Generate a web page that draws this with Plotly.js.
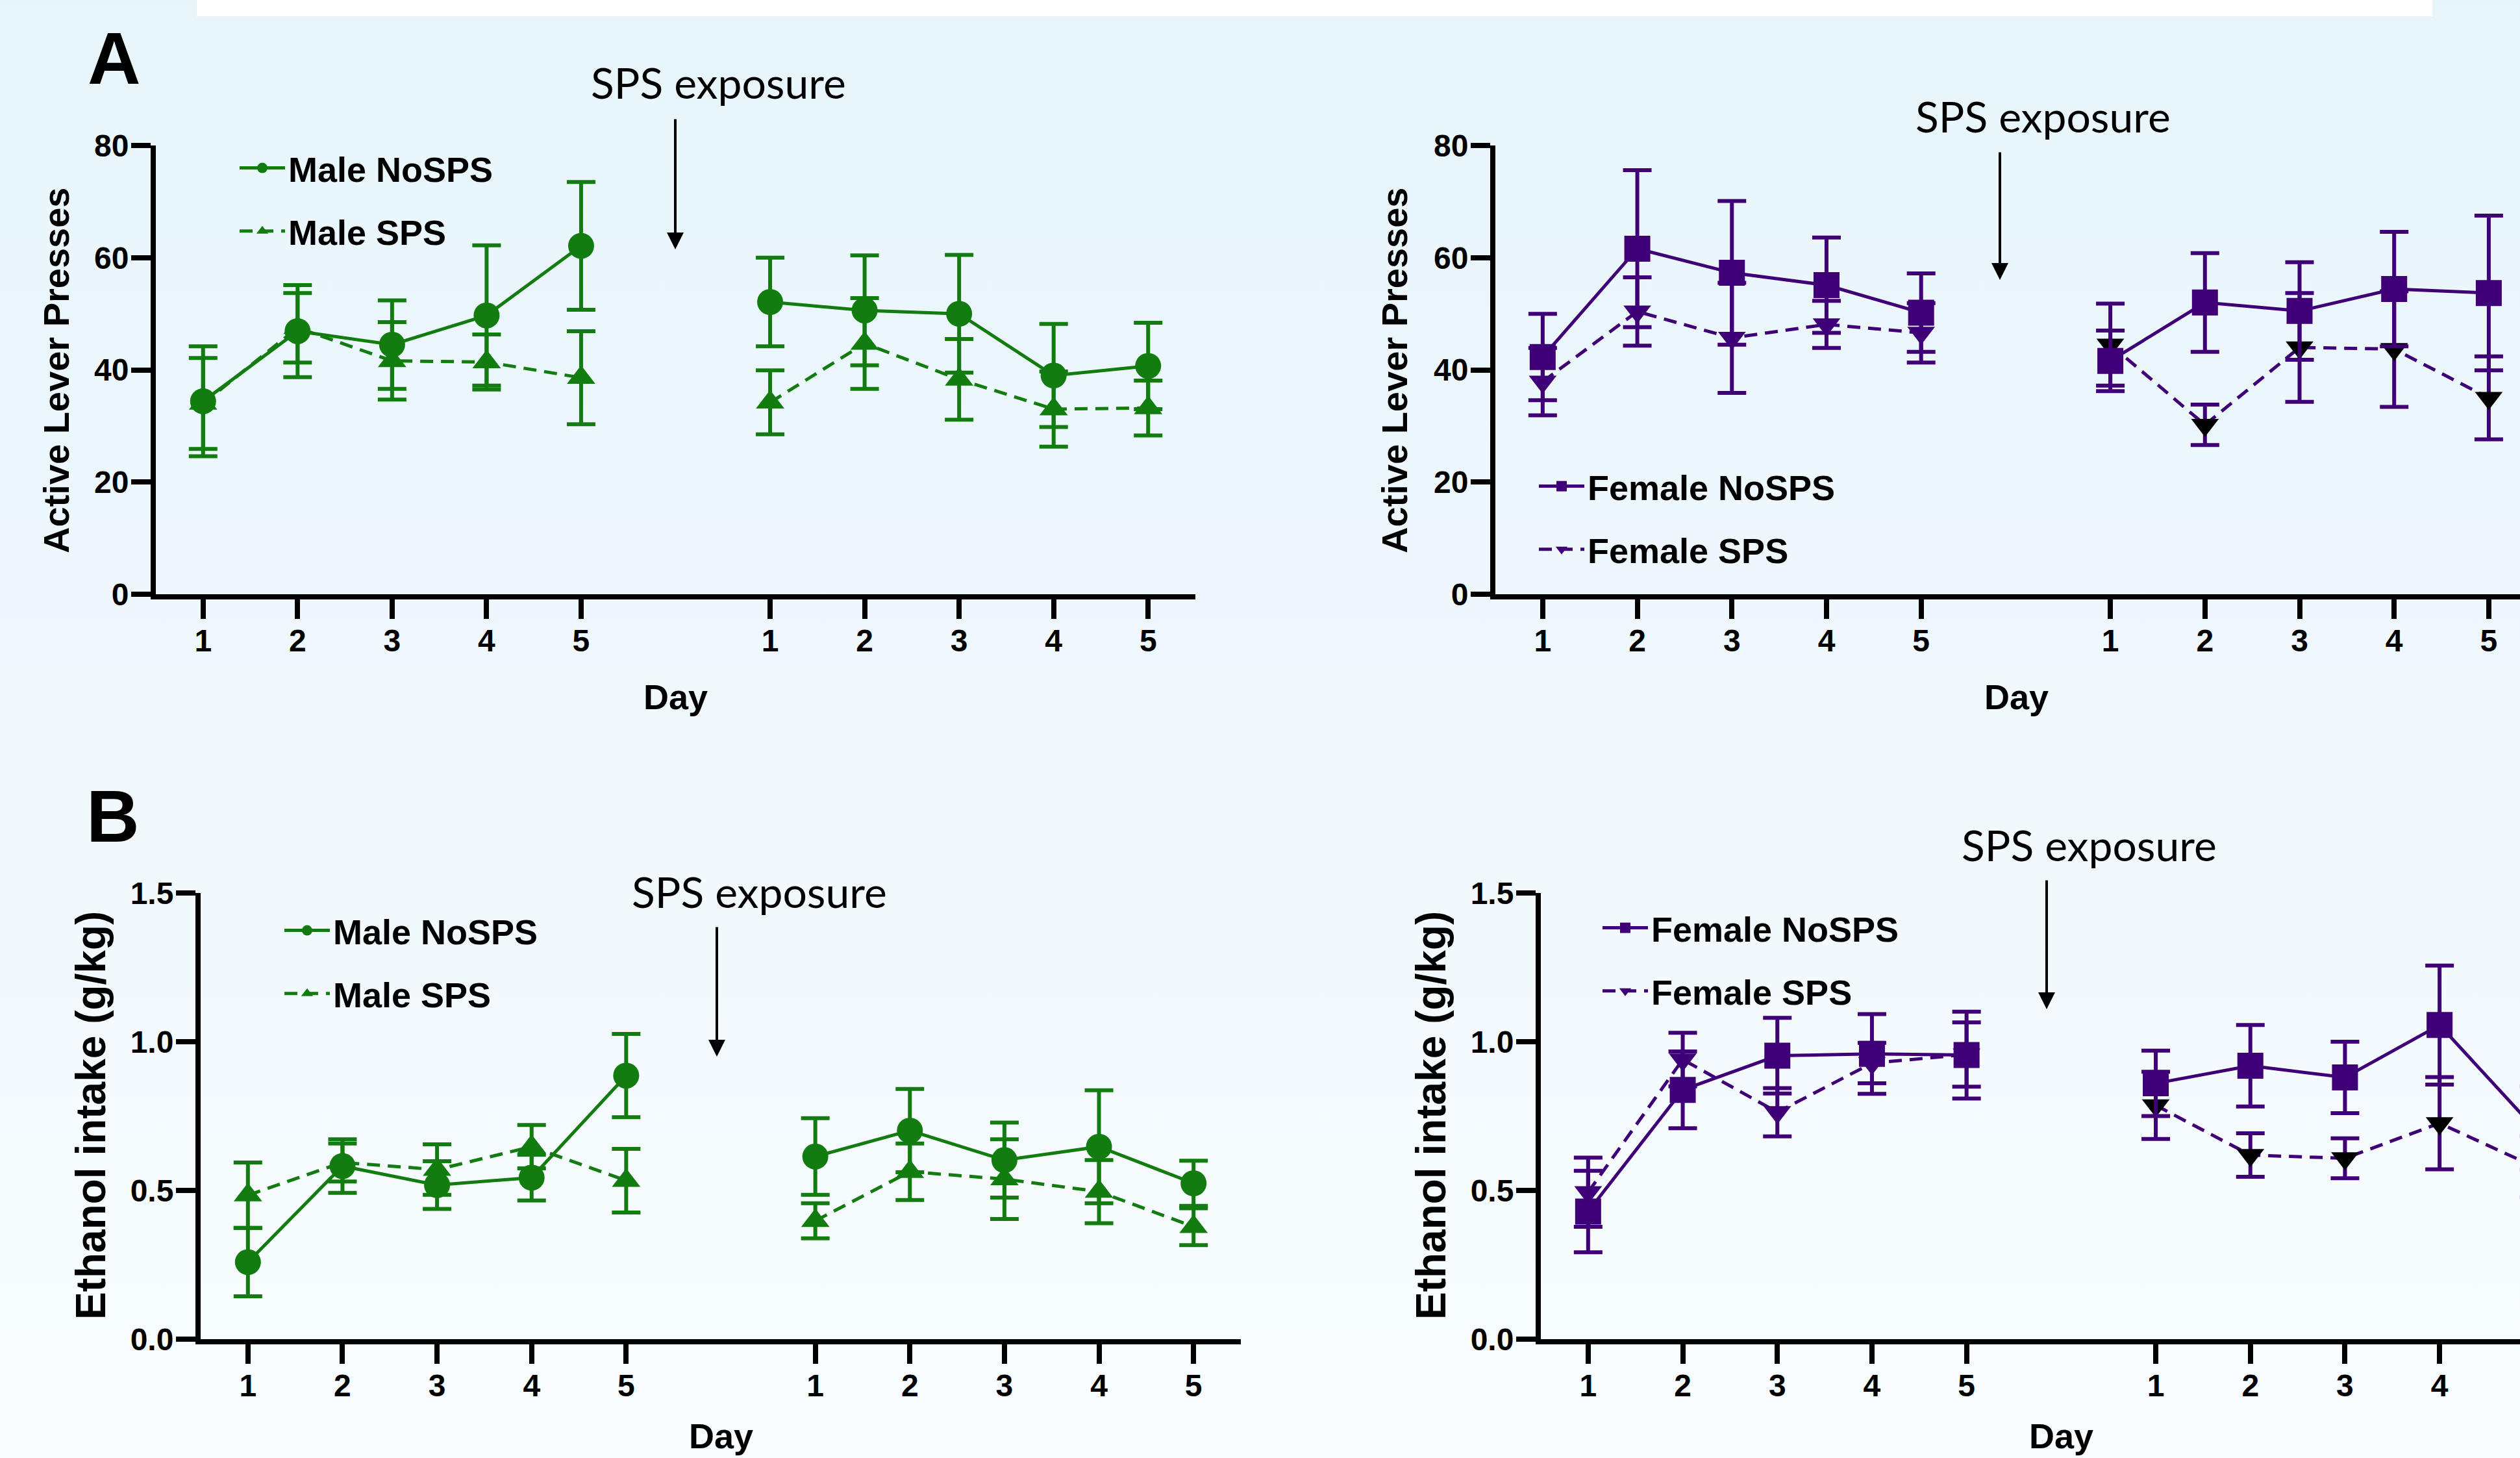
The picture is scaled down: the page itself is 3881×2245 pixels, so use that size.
<!DOCTYPE html>
<html>
<head>
<meta charset="utf-8">
<script src="https://cdn.plot.ly/plotly-3.0.1.min.js"></script>
<style>
  html, body { margin: 0; padding: 0; overflow: hidden; }
  body { width: 3881px; height: 2245px;
         background: linear-gradient(180deg, #e7f5fb 0%, #eff8fc 45%, #f8fcfe 100%); }
  #chart { width: 3881px; height: 2245px; }
</style>
</head>
<body>
<div id="chart"></div>
<script>
// ---------------- data ----------------
// x categories: 5 days before SPS, the SPS exposure slot, 5 days after SPS
const xCategories = ['Pre 1', 'Pre 2', 'Pre 3', 'Pre 4', 'Pre 5', 'SPS',
                     'Post 1', 'Post 2', 'Post 3', 'Post 4', 'Post 5'];
const preDays = ['Pre 1', 'Pre 2', 'Pre 3', 'Pre 4', 'Pre 5'];
const postDays = ['Post 1', 'Post 2', 'Post 3', 'Post 4', 'Post 5'];
const dayTickLabels = ['1', '2', '3', '4', '5', '1', '2', '3', '4', '5'];

// A: Active lever presses (mean, SEM) — pre days 1-5 then post days 1-5
const maleNoSPS_lever      = [34.4, 46.9, 44.5, 49.7, 62.1, 52.1, 50.6, 50.0, 39.0, 40.7];
const maleNoSPS_lever_sem  = [9.8, 8.2, 7.9, 12.5, 11.4, 7.9, 9.8, 10.5, 9.2, 7.7];
const maleSPS_lever        = [34.0, 47.5, 41.6, 41.4, 38.6, 34.2, 44.7, 38.3, 33.0, 33.2];
const maleSPS_lever_sem    = [8.1, 6.2, 6.9, 4.9, 8.3, 5.7, 8.1, 7.2, 6.7, 4.9];

const femaleNoSPS_lever     = [42.3, 61.6, 57.3, 55.1, 50.2, 41.6, 52.0, 50.5, 54.4, 53.7];
const femaleNoSPS_lever_sem = [7.7, 14.0, 12.8, 8.5, 7.0, 5.4, 8.8, 8.7, 10.2, 13.8];
const femaleSPS_lever       = [37.9, 50.4, 45.7, 48.1, 46.6, 44.5, 30.2, 44.0, 43.7, 35.0];
const femaleSPS_lever_sem   = [6.0, 6.1, 9.8, 4.2, 5.3, 7.3, 3.6, 9.7, 10.3, 7.4];

// B: Ethanol intake g/kg (mean, SEM)
const maleNoSPS_etoh      = [0.259, 0.582, 0.518, 0.543, 0.886, 0.614, 0.701, 0.602, 0.647, 0.524];
const maleNoSPS_etoh_sem  = [0.115, 0.090, 0.080, 0.077, 0.140, 0.129, 0.140, 0.126, 0.190, 0.076];
const maleSPS_etoh        = [0.484, 0.594, 0.570, 0.647, 0.533, 0.398, 0.563, 0.538, 0.496, 0.378];
const maleSPS_etoh_sem    = [0.110, 0.064, 0.085, 0.073, 0.107, 0.059, 0.095, 0.134, 0.106, 0.062];

const femaleNoSPS_etoh     = [0.429, 0.838, 0.953, 0.959, 0.955, 0.860, 0.919, 0.880, 1.056, 0.710];
const femaleNoSPS_etoh_sem = [0.137, 0.129, 0.127, 0.134, 0.146, 0.110, 0.137, 0.120, 0.200, 0.140];
const femaleSPS_etoh       = [0.494, 0.940, 0.763, 0.928, 0.957, 0.786, 0.619, 0.608, 0.726, 0.580];
const femaleSPS_etoh_sem   = [0.116, 0.090, 0.081, 0.068, 0.108, 0.113, 0.073, 0.067, 0.155, 0.103];

// ---------------- styling ----------------
const W = 3881, H = 2245;
const GREEN = '#137c10';
const PURPLE = '#3f0077';
const BOLD_FONT = 'Liberation Sans, Arial, Helvetica, sans-serif';
const NOTE_FONT = 'Lato, Open Sans, sans-serif';
const px = v => v / W;
const py = v => 1 - v / H;

function makeTraces(o) {
  const mk = (days, mean, sem, markerColor, first) => ({
    type: 'scatter', mode: 'lines+markers',
    x: days, y: mean,
    name: o.name, legendgroup: o.group, legend: o.legend, legendrank: o.rank,
    showlegend: first,
    xaxis: o.xa, yaxis: o.ya,
    line: { color: o.color, width: 5, dash: o.dash },
    marker: { symbol: o.symbol, size: o.size, color: markerColor },
    error_y: { type: 'data', array: sem, visible: true, color: o.color, thickness: 6, width: 22 }
  });
  return [
    mk(preDays, o.mean.slice(0, 5), o.sem.slice(0, 5), o.color, true),
    mk(postDays, o.mean.slice(5), o.sem.slice(5), o.postMarker || o.color, false)
  ];
}

const traces = [].concat(
  makeTraces({ name: 'Male SPS', group: 'aMS', legend: 'legend', rank: 2, xa: 'x', ya: 'y',
               mean: maleSPS_lever, sem: maleSPS_lever_sem, color: GREEN, symbol: 'triangle-up', size: 38, dash: '20px,12px' }),
  makeTraces({ name: 'Male NoSPS', group: 'aMN', legend: 'legend', rank: 1, xa: 'x', ya: 'y',
               mean: maleNoSPS_lever, sem: maleNoSPS_lever_sem, color: GREEN, symbol: 'circle', size: 40, dash: 'solid' }),
  makeTraces({ name: 'Female SPS', group: 'aFS', legend: 'legend2', rank: 2, xa: 'x2', ya: 'y2',
               mean: femaleSPS_lever, sem: femaleSPS_lever_sem, color: PURPLE, symbol: 'triangle-down', size: 37, dash: '20px,12px', postMarker: '#000000' }),
  makeTraces({ name: 'Female NoSPS', group: 'aFN', legend: 'legend2', rank: 1, xa: 'x2', ya: 'y2',
               mean: femaleNoSPS_lever, sem: femaleNoSPS_lever_sem, color: PURPLE, symbol: 'square', size: 40, dash: 'solid' }),
  makeTraces({ name: 'Male SPS', group: 'bMS', legend: 'legend3', rank: 2, xa: 'x3', ya: 'y3',
               mean: maleSPS_etoh, sem: maleSPS_etoh_sem, color: GREEN, symbol: 'triangle-up', size: 38, dash: '20px,12px' }),
  makeTraces({ name: 'Male NoSPS', group: 'bMN', legend: 'legend3', rank: 1, xa: 'x3', ya: 'y3',
               mean: maleNoSPS_etoh, sem: maleNoSPS_etoh_sem, color: GREEN, symbol: 'circle', size: 40, dash: 'solid' }),
  makeTraces({ name: 'Female SPS', group: 'bFS', legend: 'legend4', rank: 2, xa: 'x4', ya: 'y4',
               mean: femaleSPS_etoh, sem: femaleSPS_etoh_sem, color: PURPLE, symbol: 'triangle-down', size: 37, dash: '20px,12px', postMarker: '#000000' }),
  makeTraces({ name: 'Female NoSPS', group: 'bFN', legend: 'legend4', rank: 1, xa: 'x4', ya: 'y4',
               mean: femaleNoSPS_etoh, sem: femaleNoSPS_etoh_sem, color: PURPLE, symbol: 'square', size: 40, dash: 'solid' })
);

const tickFont = { family: BOLD_FONT, size: 48, color: '#000', weight: 'bold' };
function xAxis(d0, d1, rangeEnd, anchor) {
  return {
    domain: [px(d0), px(d1)], anchor: anchor, type: 'category',
    categoryorder: 'array', categoryarray: xCategories, range: [-0.5, rangeEnd],
    tickmode: 'array', tickvals: preDays.concat(postDays), ticktext: dayTickLabels,
    showline: true, linewidth: 8, linecolor: '#000', mirror: false,
    ticks: 'outside', ticklen: 30, tickwidth: 8, tickcolor: '#000', ticklabelstandoff: -8,
    showgrid: false, zeroline: false, tickfont: tickFont, fixedrange: true
  };
}
function yAxis(top, bottom, range, dtick, fmt, anchor) {
  return {
    domain: [py(bottom), py(top)], anchor: anchor, range: range,
    tickmode: 'linear', tick0: 0, dtick: dtick, tickformat: fmt,
    showline: true, linewidth: 8, linecolor: '#000',
    ticks: 'outside', ticklen: 30, tickwidth: 8, tickcolor: '#000', ticklabelstandoff: -6,
    showgrid: false, zeroline: false, tickfont: tickFont, fixedrange: true
  };
}

function legendBox(left, top) {
  return {
    x: px(left), y: py(top), xanchor: 'left', yanchor: 'top',
    bgcolor: 'rgba(0,0,0,0)', borderwidth: 0, tracegroupgap: 24, itemwidth: 70,
    font: { family: BOLD_FONT, size: 54, color: '#000', weight: 'bold' },
    traceorder: 'grouped'
  };
}

function text(t, x, y, size, family, extra) {
  return Object.assign({
    text: t, xref: 'paper', yref: 'paper', x: px(x), y: py(y),
    xanchor: 'center', yanchor: 'middle', showarrow: false,
    font: { family: family, size: size, color: '#000' }
  }, extra || {});
}
function boldText(t, x, y, size, extra) {
  const a = text(t, x, y, size, BOLD_FONT, extra);
  a.font.weight = 'bold';
  return a;
}
function arrow(x, top, tip) {
  return {
    text: '', xref: 'paper', yref: 'paper', x: px(x), y: py(tip),
    ax: 0, ay: -(tip - top), axref: 'pixel', ayref: 'pixel',
    showarrow: true, arrowhead: 2, arrowsize: 1.3, arrowwidth: 4, arrowcolor: '#000'
  };
}

const annotations = [
  boldText('A', 176, 90, 113),
  boldText('B', 174, 1257, 113),
  text('SPS exposure', 1106, 127, 66, NOTE_FONT),
  text('SPS exposure', 3146, 179, 66, NOTE_FONT),
  text('SPS exposure', 1169, 1372, 66, NOTE_FONT),
  text('SPS exposure', 3217, 1300, 66, NOTE_FONT),
  arrow(1040, 182, 384),
  arrow(3080, 233, 431),
  arrow(1104, 1426, 1627),
  arrow(3152, 1354, 1554),
  boldText('Active Lever Presses', 87, 570, 56, { textangle: -90 }),
  boldText('Active Lever Presses', 2148, 570, 56, { textangle: -90 }),
  boldText('Ethanol intake (g/kg)', 140, 1718, 64, { textangle: -90 }),
  boldText('Ethanol intake (g/kg)', 2204, 1718, 64, { textangle: -90 }),
  boldText('Day', 1040, 1073, 54),
  boldText('Day', 3105, 1073, 54),
  boldText('Day', 1110, 2211, 54),
  boldText('Day', 3174, 2211, 54)
];

const layout = {
  width: W, height: H, autosize: false,
  margin: { l: 0, r: 0, t: 0, b: 0, pad: 0 },
  paper_bgcolor: 'rgba(0,0,0,0)', plot_bgcolor: 'rgba(0,0,0,0)',
  showlegend: true,
  xaxis:  xAxis(240, 1841, 10.5, 'y'),
  yaxis:  yAxis(224, 915, [0, 80], 20, 'd', 'x'),
  xaxis2: xAxis(2303, 3881, 10.33, 'y2'),
  yaxis2: yAxis(224, 915, [0, 80], 20, 'd', 'x2'),
  xaxis3: xAxis(309, 1911, 10.5, 'y3'),
  yaxis3: yAxis(1375, 2062, [0, 1.5], 0.5, '.1f', 'x3'),
  xaxis4: xAxis(2373, 3881, 9.85, 'y4'),
  yaxis4: yAxis(1375, 2062, [0, 1.5], 0.5, '.1f', 'x4'),
  legend:  legendBox(364, 217),
  legend2: legendBox(2365, 707),
  legend3: legendBox(433, 1391),
  legend4: legendBox(2463, 1387),
  shapes: [{
    type: 'rect', xref: 'paper', yref: 'paper', layer: 'below',
    x0: px(303), x1: px(3746), y0: py(25), y1: 1,
    fillcolor: '#ffffff', line: { width: 0 }
  }],
  annotations: annotations
};

Plotly.newPlot('chart', traces, layout, { staticPlot: true, displayModeBar: false });
</script>
</body>
</html>
